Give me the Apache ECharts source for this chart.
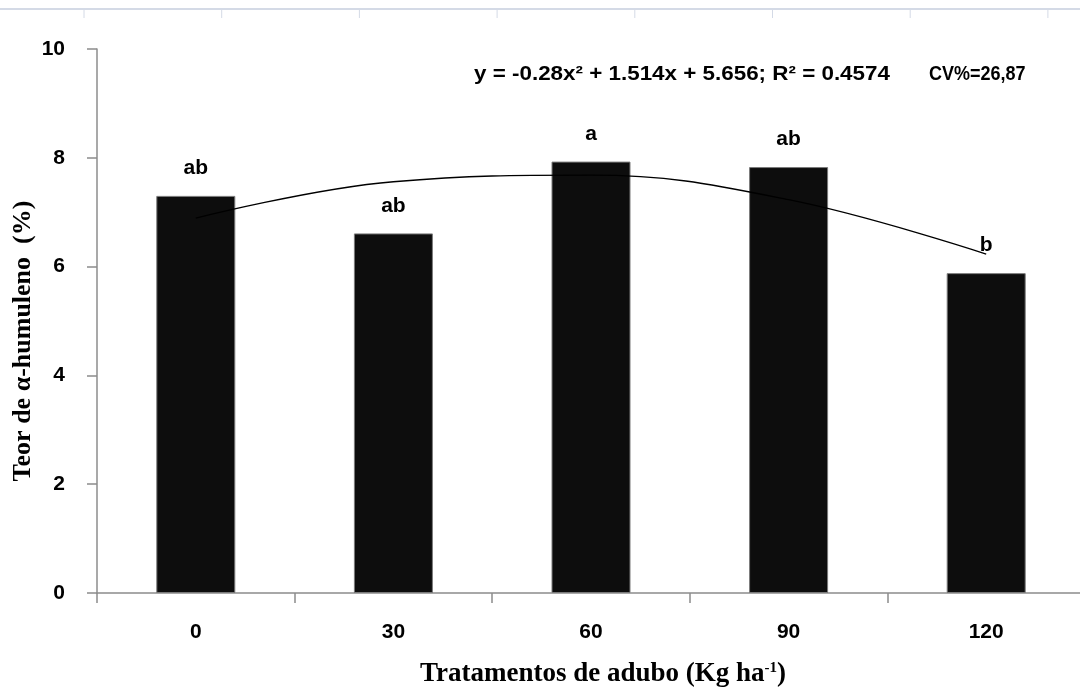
<!DOCTYPE html>
<html>
<head>
<meta charset="utf-8">
<script src="https://cdn.jsdelivr.net/npm/echarts@6/dist/echarts.min.js"></script>
<style>html,body{margin:0;padding:0;background:#fff;overflow:hidden;}#c{width:1080px;height:688px;}</style>
</head>
<body>
<div id="c"></div>
<script>
const categories = ['0', '30', '60', '90', '120'];
const teor = [7.30, 6.61, 7.93, 7.83, 5.88];
const letters = ['ab', 'ab', 'a', 'ab', 'b'];
const trend = [6.89, 7.56, 7.68, 7.23, 6.23];
const yTicks = [0, 2, 4, 6, 8, 10];
const equation = 'y = -0.28x² + 1.514x + 5.656; R² = 0.4574';
const cvText = 'CV%=26,87';

const chart = echarts.init(document.getElementById('c'), null, {renderer: 'canvas', width: 1080, height: 688});

const rulerTicks = [];
for (let i = 0; i < 8; i++) {
  const x = 84 + i * 137.7;
  rulerTicks.push({type: 'line', shape: {x1: x, y1: 9, x2: x, y2: 18}, style: {stroke: '#d4dae6', lineWidth: 1}, silent: true});
}

const option = {
  backgroundColor: '#ffffff',
  animation: false,
  grid: {left: 97, top: 49, width: 988, height: 544, containLabel: false, outerBoundsMode: 'none'},
  xAxis: {
    type: 'category',
    data: categories,
    boundaryGap: true,
    axisLine: {lineStyle: {color: '#8c8c8c', width: 1.5}},
    axisTick: {show: true, length: 10, lineStyle: {color: '#8c8c8c', width: 1.5}},
    axisLabel: {color: '#000', fontFamily: 'Liberation Sans', fontWeight: 'bold', fontSize: 21, margin: 29},
    name: '{a|Tratamentos de adubo (Kg ha}{s|-1}{a|)}',
    nameLocation: 'middle',
    nameGap: 68,
    nameTextStyle: {
      padding: [0, 0, 0, 24],
      rich: {
        a: {fontFamily: 'Liberation Serif', fontWeight: 'bold', fontSize: 27, color: '#000'},
        s: {fontFamily: 'Liberation Serif', fontWeight: 'bold', fontSize: 15, color: '#000', padding: [0, 0, 12, 0]}
      }
    }
  },
  yAxis: {
    type: 'value',
    min: 0, max: 10, interval: 2,
    splitLine: {show: false},
    axisLine: {show: true, lineStyle: {color: '#8c8c8c', width: 1.5}},
    axisTick: {show: true, inside: false, length: 10, lineStyle: {color: '#8c8c8c', width: 1.5}},
    axisLabel: {color: '#000', fontFamily: 'Liberation Sans', fontWeight: 'bold', fontSize: 21, margin: 32,
      formatter: v => yTicks.includes(v) ? String(v) : ''},
    name: 'Teor de α-humuleno  (%)',
    nameLocation: 'middle',
    nameGap: 61,
    nameMoveOverlap: false,
    nameTextStyle: {fontFamily: 'Liberation Serif', fontWeight: 'bold', fontSize: 26, color: '#000', padding: [0, 40, 0, 0]}
  },
  series: [
    {
      type: 'bar',
      data: teor,
      barWidth: 79,
      itemStyle: {color: '#0d0d0d', borderColor: '#7a7a7a', borderWidth: 1},
      label: {
        show: true, position: 'top', distance: 17,
        formatter: p => letters[p.dataIndex],
        fontFamily: 'Liberation Sans', fontWeight: 'bold', fontSize: 21, color: '#000'
      },
      z: 2
    },
    {
      type: 'line',
      data: trend,
      smooth: 0.4,
      symbol: 'none',
      lineStyle: {color: '#000', width: 1.3},
      z: 3
    }
  ],
  graphic: [
    {type: 'line', shape: {x1: 0, y1: 9, x2: 1080, y2: 9}, style: {stroke: '#d4dae6', lineWidth: 2}, silent: true},
    ...rulerTicks,
    {type: 'text', x: 474, y: 64, scaleX: 1.12, style: {text: equation, fontFamily: 'Liberation Sans', fontWeight: 'bold', fontSize: 20, fill: '#000'}},
    {type: 'text', x: 929, y: 64, scaleX: 0.9, style: {text: cvText, fontFamily: 'Liberation Sans', fontWeight: 'bold', fontSize: 20, fill: '#000'}}
  ]
};
chart.setOption(option);
</script>
</body>
</html>
